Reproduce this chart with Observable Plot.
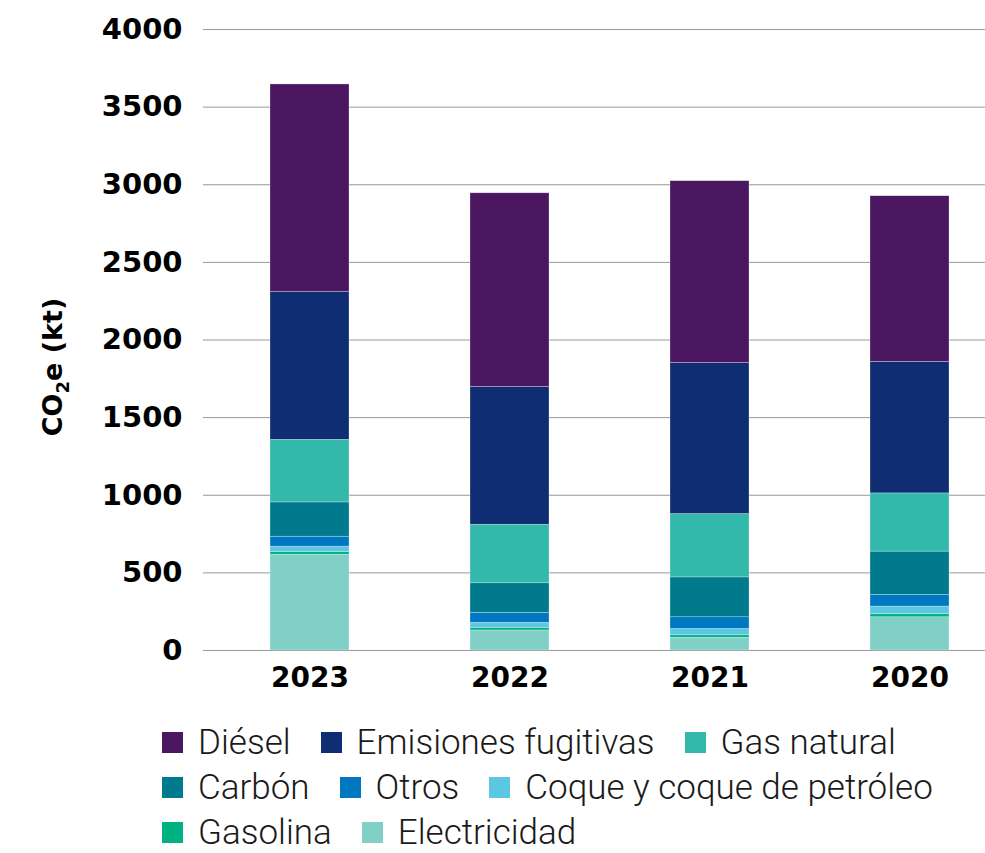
<!DOCTYPE html>
<html>
<head>
<meta charset="utf-8">
<script src="https://cdn.jsdelivr.net/npm/d3@7"></script>
<script src="https://cdn.jsdelivr.net/npm/@observablehq/plot@0.6"></script>
<style>
  html, body { margin: 0; padding: 0; background: #fff; }
  #chart { width: 985px; }
  .legend { margin-left: 162px; margin-top: 10px; font-family: Roboto, sans-serif; font-weight: 300; font-size: 35px; color: #1a1a1a; }
  .legend .row { display: flex; align-items: center; height: 45px; }
  .legend .item { display: flex; align-items: center; margin-right: 30px; white-space: nowrap; }
  .legend .sw { width: 21px; height: 21px; margin-right: 15px; flex: none; }
</style>
</head>
<body>
<div id="chart"></div>
<script>
const years = ["2023", "2022", "2021", "2020"];
// series listed bottom-to-top
const series = ["Electricidad", "Gasolina", "Coque y coque de petróleo", "Otros", "Carbón", "Gas natural", "Emisiones fugitivas", "Diésel"];
const colors = ["#80d0c8", "#00b283", "#5bc7e2", "#0077c1", "#007a8c", "#33b9ac", "#0f2d73", "#4a1760"];
const electricidad = [617, 129, 82, 214];
const gasolina     = [18, 17, 16, 20];
const coque        = [34, 32, 41, 49];
const otros        = [64, 64, 75, 75];
const carbon       = [221, 191, 257, 279];
const gasNatural   = [403, 377, 408, 375];
const emisiones    = [952, 888, 973, 847];
const diesel       = [1337, 1247, 1171, 1067];
const yTicks = [0, 500, 1000, 1500, 2000, 2500, 3000, 3500, 4000];
const legendOrder = ["Diésel", "Emisiones fugitivas", "Gas natural", "Carbón", "Otros", "Coque y coque de petróleo", "Gasolina", "Electricidad"];
const legendRows = [3, 3, 2];

const valuesBySeries = [electricidad, gasolina, coque, otros, carbon, gasNatural, emisiones, diesel];
const data = [];
years.forEach((yr, i) => {
  series.forEach((s, j) => data.push({year: yr, fuente: s, value: valuesBySeries[j][i]}));
});

const font = "'DejaVu Sans', sans-serif";
const plot = Plot.plot({
  width: 985,
  height: 710,
  marginTop: 29,
  marginBottom: 60,
  marginLeft: 203,
  marginRight: 0,
  style: {fontFamily: font, background: "#fff"},
  x: {domain: years, range: [270, 949], paddingInner: 0.605, paddingOuter: 0},
  y: {domain: [0, 4000]},
  color: {domain: series, range: colors},
  marks: [
    Plot.ruleY(yTicks, {stroke: "#999", strokeWidth: 1}),
    Plot.barY(data, {x: "year", y: "value", fill: "fuente", stroke: "white", strokeWidth: 0.6, strokeOpacity: 0.45, order: series}),
    Plot.axisY({ticks: yTicks, tickFormat: d => String(d), tickSize: 0, tickPadding: 21, label: null, fontSize: 29, fontWeight: "bold", fill: "#000"}),
    Plot.axisX({tickSize: 0, tickPadding: 17, label: null, fontSize: 28, fontWeight: "bold", fill: "#000"})
  ]
});
const svg = d3.select(plot);
svg.selectAll("[aria-label='y-axis tick label'] text, [aria-label='x-axis tick label'] text").attr("font-weight", "bold");
const lab = svg.append("text")
  .attr("transform", "translate(62,367) rotate(-90)")
  .attr("text-anchor", "middle")
  .attr("font-family", font)
  .attr("font-weight", "bold")
  .attr("font-size", 27)
  .attr("fill", "#000");
lab.append("tspan").text("CO");
lab.append("tspan").attr("font-size", 18).attr("dy", 7).text("2");
lab.append("tspan").attr("dy", -7).text("e (kt)");
document.getElementById("chart").appendChild(plot);

const legend = d3.select("#chart").append("div").attr("class", "legend");
let k = 0;
legendRows.forEach(n => {
  const row = legend.append("div").attr("class", "row");
  for (let i = 0; i < n; i++, k++) {
    const name = legendOrder[k];
    const it = row.append("div").attr("class", "item");
    it.append("div").attr("class", "sw").style("background", colors[series.indexOf(name)]);
    it.append("span").text(name);
  }
});
</script>
</body>
</html>
